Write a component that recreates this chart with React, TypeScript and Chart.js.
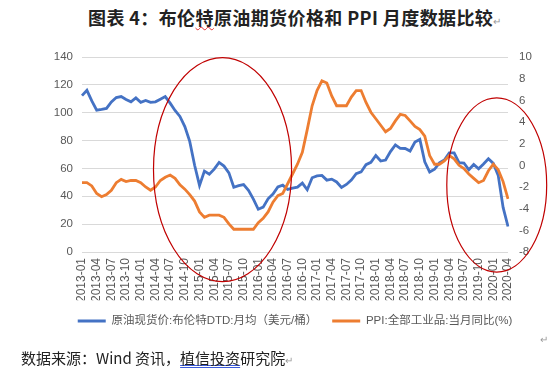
import React, { useEffect, useRef } from 'react';
import { Chart, registerables } from 'chart.js';

Chart.register(...registerables);

const months = [
  '2013-01', '2013-02', '2013-03', '2013-04', '2013-05', '2013-06', '2013-07', '2013-08', '2013-09', '2013-10', '2013-11', '2013-12',
  '2014-01', '2014-02', '2014-03', '2014-04', '2014-05', '2014-06', '2014-07', '2014-08', '2014-09', '2014-10', '2014-11', '2014-12',
  '2015-01', '2015-02', '2015-03', '2015-04', '2015-05', '2015-06', '2015-07', '2015-08', '2015-09', '2015-10', '2015-11', '2015-12',
  '2016-01', '2016-02', '2016-03', '2016-04', '2016-05', '2016-06', '2016-07', '2016-08', '2016-09', '2016-10', '2016-11', '2016-12',
  '2017-01', '2017-02', '2017-03', '2017-04', '2017-05', '2017-06', '2017-07', '2017-08', '2017-09', '2017-10', '2017-11', '2017-12',
  '2018-01', '2018-02', '2018-03', '2018-04', '2018-05', '2018-06', '2018-07', '2018-08', '2018-09', '2018-10', '2018-11', '2018-12',
  '2019-01', '2019-02', '2019-03', '2019-04', '2019-05', '2019-06', '2019-07', '2019-08', '2019-09', '2019-10', '2019-11', '2019-12',
  '2020-01', '2020-02', '2020-03', '2020-04',
];

const brent = [
  112.3, 116.1, 108.5, 101.8, 102.4, 103.1, 107.7, 110.9, 111.6, 109.5, 107.8, 110.6,
  107.4, 108.8, 107.4, 107.8, 109.7, 111.6, 106.9, 101.6, 97.3, 90.0, 79.4, 62.3,
  47.8, 58.1, 55.9, 59.5, 64.3, 61.7, 56.8, 46.5, 47.6, 48.4, 44.3, 38.0,
  30.7, 32.2, 38.2, 41.6, 46.7, 48.0, 44.9, 45.8, 46.6, 49.5, 44.7, 53.3,
  54.6, 55.0, 51.6, 52.3, 50.3, 46.4, 48.5, 51.7, 56.2, 57.5, 62.7, 64.4,
  69.3, 65.3, 66.0, 72.1, 76.9, 74.4, 74.3, 72.5, 78.9, 80.8, 64.7, 57.4,
  59.4, 64.0, 66.1, 71.2, 71.1, 64.2, 63.9, 59.0, 62.8, 59.7, 63.2, 67.0,
  63.6, 55.0, 32.0, 18.3,
];

const ppi = [
  -1.6, -1.6, -1.9, -2.6, -2.9, -2.7, -2.3, -1.6, -1.3, -1.5, -1.4, -1.4,
  -1.6, -2.0, -2.3, -2.0, -1.4, -1.1, -0.9, -1.2, -1.8, -2.2, -2.7, -3.3,
  -4.3, -4.8, -4.6, -4.6, -4.6, -4.8, -5.4, -5.9, -5.9, -5.9, -5.9, -5.9,
  -5.3, -4.9, -4.3, -3.4, -2.8, -2.6, -1.7, -0.8, 0.1, 1.2, 3.3, 5.5,
  6.9, 7.8, 7.6, 6.4, 5.5, 5.5, 5.5, 6.3, 6.9, 6.9, 5.8, 4.9,
  4.3, 3.7, 3.1, 3.4, 4.1, 4.7, 4.6, 4.1, 3.6, 3.3, 2.7, 0.9,
  0.1, 0.1, 0.4, 0.9, 0.6, 0.0, -0.3, -0.8, -1.2, -1.6, -1.4, -0.5,
  0.1, -0.4, -1.5, -3.1,
];

const seriesNames = ['原油现货价:布伦特DTD:月均（美元/桶）', 'PPI:全部工业品:当月同比(%)'];
const seriesColors = ['#4472C4', '#ED7D31'];

const leftAxis = { min: 0, max: 140, step: 20 };
const rightAxis = { min: -8, max: 10, step: 2 };

// highlight ellipses in data units: month index, left-axis value, radii in months / left-axis units
const highlightCenterMonth = [28.7, 84.7];
const highlightCenterValue = [59.2, 48.1];
const highlightRadiusMonths = [14.1, 10.2];
const highlightRadiusValue = [80.4, 62.5];

const titleText = ['图表 4：布伦', '特', '原油期货价格和 PPI 月度数据比较'];
const sourceText = ['数据来源：Wind 资讯，', '植信投资', '研究院'];

const FONT = "'Liberation Sans', 'Noto Sans CJK SC', sans-serif";

const ellipsePlugin = {
  id: 'highlightEllipses',
  afterDraw(chart: any) {
    const { ctx, scales } = chart;
    const x = scales.x;
    const y = scales.y;
    ctx.save();
    ctx.strokeStyle = '#C00000';
    ctx.lineWidth = 1.2;
    highlightCenterMonth.forEach((m, k) => {
      const cx = x.getPixelForValue(m);
      const cy = y.getPixelForValue(highlightCenterValue[k]);
      const rx = Math.abs(x.getPixelForValue(m + highlightRadiusMonths[k]) - cx);
      const ry = Math.abs(y.getPixelForValue(highlightCenterValue[k] + highlightRadiusValue[k]) - cy);
      ctx.beginPath();
      ctx.ellipse(cx, cy, rx, ry, 0, 0, Math.PI * 2);
      ctx.stroke();
    });
    ctx.restore();
  },
};

function OilPpiChart() {
  const ref = useRef<HTMLCanvasElement | null>(null);
  useEffect(() => {
    if (!ref.current) return;
    const chart = new Chart(ref.current, {
      type: 'line',
      data: {
        labels: months,
        datasets: [
          {
            label: seriesNames[0],
            data: brent,
            yAxisID: 'y',
            borderColor: seriesColors[0],
            backgroundColor: seriesColors[0],
            borderWidth: 2.8,
            pointRadius: 0,
            tension: 0,
            order: 1,
          },
          {
            label: seriesNames[1],
            data: ppi,
            yAxisID: 'y1',
            borderColor: seriesColors[1],
            backgroundColor: seriesColors[1],
            borderWidth: 2.8,
            pointRadius: 0,
            tension: 0,
            order: 0,
          },
        ],
      },
      options: {
        animation: false,
        responsive: false,
        events: [],
        layout: { padding: { top: 57, left: 40, right: 0, bottom: 35.25 } },
        plugins: {
          tooltip: { enabled: false },
          legend: {
            position: 'bottom',
            labels: {
              boxWidth: 28,
              boxHeight: 3,
              padding: 15,
              color: '#595959',
              font: { size: 11.5, family: FONT },
              sort: (a: any, b: any) => a.datasetIndex - b.datasetIndex,
              generateLabels: (chart: any) =>
                Chart.defaults.plugins.legend.labels
                  .generateLabels(chart)
                  .map((it: any) => ({ ...it, lineWidth: 0 })),
            },
          },
        },
        scales: {
          x: {
            type: 'category',
            offset: false,
            grid: { display: false, drawTicks: false },
            border: { display: false },
            ticks: {
              autoSkip: false,
              minRotation: 90,
              maxRotation: 90,
              padding: 6,
              color: '#595959',
              font: { size: 12, family: FONT },
              callback: (_v: any, i: number) => (i % 3 === 0 ? months[i] : ''),
            },
            afterFit: (s: any) => {
              s.height = 48.25;
            },
          },
          y: {
            position: 'left',
            min: leftAxis.min,
            max: leftAxis.max,
            grid: { color: '#D9D9D9', lineWidth: 1, drawTicks: false },
            border: { display: false },
            ticks: {
              stepSize: leftAxis.step,
              padding: 9,
              color: '#595959',
              font: { size: 11.5, family: FONT },
            },
            afterFit: (s: any) => {
              s.width = 42;
            },
          },
          y1: {
            position: 'right',
            min: rightAxis.min,
            max: rightAxis.max,
            grid: { display: false, drawTicks: false },
            border: { display: false },
            ticks: {
              stepSize: rightAxis.step,
              padding: 11,
              color: '#595959',
              font: { size: 11.5, family: FONT },
            },
            afterFit: (s: any) => {
              s.width = 42;
            },
          },
        },
      },
      plugins: [ellipsePlugin],
    } as any);
    return () => chart.destroy();
  }, []);
  return <canvas ref={ref} width={550} height={372} style={{ position: 'absolute', left: 0, top: 0, width: 550, height: 372 }} />;
}

export default function App() {
  const cjk = "'Noto Sans CJK SC', sans-serif";
  return (
    <div style={{ position: 'fixed', left: 0, top: 0, width: 550, height: 372, background: '#fff', overflow: 'hidden' }}>
      <div
        style={{
          position: 'absolute',
          left: 88,
          top: 7,
          fontFamily: cjk,
          fontWeight: 700,
          fontSize: 18,
          letterSpacing: 0.4,
          lineHeight: '20px',
          color: '#222',
          whiteSpace: 'nowrap',
        }}
      >
        {titleText[0]}
        <span style={{ textDecoration: 'underline wavy #e03030', textDecorationThickness: 1 }}>{titleText[1]}</span>
        {titleText[2]}
        <span style={{ fontSize: 10, fontWeight: 400, color: '#999' }}>↵</span>
      </div>
      <OilPpiChart />
      <div style={{ position: 'absolute', left: 540, top: 331, fontSize: 10, color: '#999', fontFamily: cjk }}>↵</div>
      <div
        style={{
          position: 'absolute',
          left: 21,
          top: 349,
          fontFamily: cjk,
          fontSize: 15,
          lineHeight: '18px',
          color: '#222',
          whiteSpace: 'nowrap',
        }}
      >
        {sourceText[0]}
        <span style={{ textDecoration: 'underline double #3b5bdb', textDecorationThickness: 1 }}>{sourceText[1]}</span>
        {sourceText[2]}
        <span style={{ fontSize: 10, color: '#999' }}>↵</span>
      </div>
    </div>
  );
}
